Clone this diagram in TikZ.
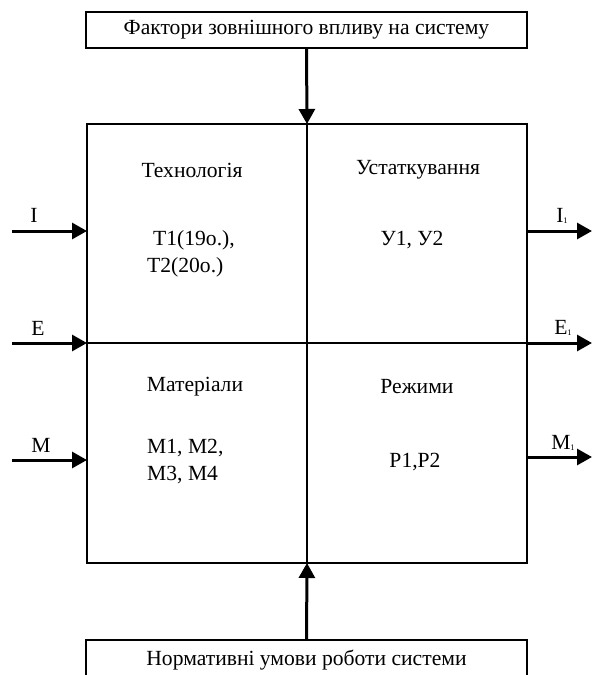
\documentclass[tikz,border=0pt]{standalone}
\usepackage{fontspec}
\setmainfont{Liberation Serif}
\usetikzlibrary{arrows.meta}
\newcommand{\sub}[1]{\raisebox{-0.5pt}{\fontsize{8.5}{9}\selectfont #1}}
\begin{document}
\begin{tikzpicture}[x=1pt,y=-1pt,
  every node/.style={font=\fontsize{21.6}{24}\selectfont},
  box/.style={draw,line width=2.9pt,inner sep=0pt,outer sep=0pt},
  flow/.style={line width=3pt,-{Triangle[length=15pt,width=16pt]}},
  lbl/.style={inner sep=0pt}]
  \clip (0,0) rectangle (593,675);
  \fill[white] (0,0) rectangle (593,675);

  % outer boxes
  \node[box,minimum width=441pt,minimum height=36pt] (top) at (306.5,30)
    {Фактори зовнішного впливу на систему};
  \node[box,minimum width=441pt,minimum height=40pt] (bottom) at (306.5,660)
    {Нормативні умови роботи системи};

  % four quadrants of the system
  \node[box,minimum width=220pt,minimum height=219pt] (q1) at (197,233.5) {};
  \node[box,minimum width=220pt,minimum height=219pt] (q2) at (417,233.5) {};
  \node[box,minimum width=220pt,minimum height=220pt] (q3) at (197,453) {};
  \node[box,minimum width=220pt,minimum height=220pt] (q4) at (417,453) {};

  % quadrant contents
  \node[lbl] (tech) at (192,170) {Технологія};
  \node[lbl,anchor=west] (t1) at (153,240) {Т1(19о.),};
  \node[lbl,anchor=west] (t2) at (147,267) {Т2(20о.)};
  \node[lbl] (equip) at (418,170) {Устаткування};
  \node[lbl] (u12) at (412,240) {У1, У2};
  \node[lbl] (mat) at (195,387) {Матеріали};
  \node[lbl,anchor=west] (m12) at (147,448) {М1, М2,};
  \node[lbl,anchor=west] (m34) at (147,475) {М3, М4};
  \node[lbl] (mode) at (417,387) {Режими};
  \node[lbl] (p12) at (415,462) {Р1,Р2};

  % vertical influences
  \draw[flow] (top.south) -- (q1.north east);
  \draw[flow] (bottom.north) -- (q3.south east);

  % inputs
  \coordinate (inI) at (12,231);
  \coordinate (inE) at (12,343);
  \coordinate (inM) at (12,460);
  \draw[flow] (inI) -- (q1.west |- inI);
  \draw[flow] (inE) -- (q1.south west);
  \draw[flow] (inM) -- (q3.west |- inM);
  \node[lbl] (lI) at (34,215) {I};
  \node[lbl] (lE) at (38,328) {E};
  \node[lbl] (lM) at (41,445) {M};

  % outputs
  \coordinate (outI) at (592,231);
  \coordinate (outE) at (592,343);
  \coordinate (outM) at (592,457);
  \draw[flow] (q2.east |- outI) -- (outI);
  \draw[flow] (q2.south east) -- (outE);
  \draw[flow] (q4.east |- outM) -- (outM);
  \node[lbl] (lI1) at (562,216) {I\sub{1}};
  \node[lbl] (lE1) at (563,328) {E\sub{1}};
  \node[lbl] (lM1) at (563,443) {M\sub{1}};
\end{tikzpicture}
\end{document}
